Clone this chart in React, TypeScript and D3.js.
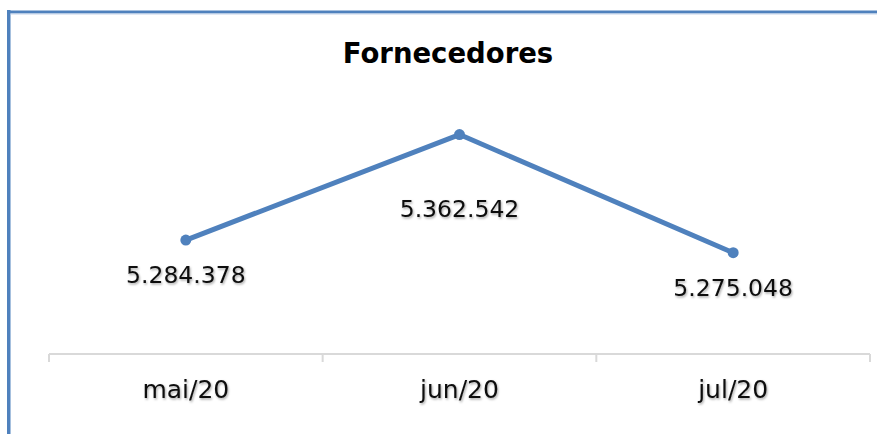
import React from 'react'
import * as d3 from 'd3'

const width = 877
const height = 434

// dados do gráfico
const months = ['mai/20', 'jun/20', 'jul/20']
const values = [5284378, 5362542, 5275048]
const chartTitle = 'Fornecedores'

const fmt = (v: number) => d3.format(',')(v).replace(/,/g, '.')

const App: React.FC = () => {
  const margin = { top: 84, right: 7, bottom: 80, left: 49 }
  const innerBottom = height - margin.bottom

  const x = d3.scaleBand<string>()
    .domain(months)
    .range([margin.left, width - margin.right])

  const y = d3.scaleLinear()
    .domain([5200000, 5400000])
    .range([innerBottom, margin.top])

  const cx = (i: number) => (x(months[i]) || 0) + x.bandwidth() / 2

  const line = d3.line<number>()
    .x((_, i) => cx(i))
    .y(d => y(d))

  // rótulos: o do meio fica mais afastado do ponto
  const labelDy = (i: number) => (i === 1 ? 82 : 43)

  const ticks = [...months.map(m => x(m) || 0), width - margin.right]
  const blue = '#4f81bd'
  const font = '"DejaVu Sans", sans-serif'

  return (
    <svg width={width} height={height} style={{ position: 'absolute', left: 0, top: 0, background: '#fff' }}>
      <defs>
        <filter id="shadow" x="-10%" y="-20%" width="120%" height="150%">
          <feDropShadow dx="1" dy="1.5" stdDeviation="0.8" floodColor="#000" floodOpacity="0.35" />
        </filter>
      </defs>

      {/* moldura */}
      <line x1={8.75} x2={8.75} y1={10} y2={height} stroke={blue} strokeWidth={3.5} />
      <line x1={7} x2={width} y1={12} y2={12} stroke={blue} strokeWidth={3} />
      <line x1={10.5} x2={width} y1={14} y2={14} stroke="#c5d4ea" strokeWidth={1} />

      <text x={448} y={63} textAnchor="middle" fontFamily={font} fontWeight="bold" fontSize={27.5} fill="#000">
        {chartTitle}
      </text>

      {/* eixo x */}
      <line x1={margin.left} x2={width - margin.right} y1={innerBottom} y2={innerBottom} stroke="#d9d9d9" strokeWidth={2} />
      {ticks.map((t, i) => (
        <line key={i} x1={t} x2={t} y1={innerBottom} y2={innerBottom + 8} stroke="#d9d9d9" strokeWidth={2} />
      ))}
      {months.map((m, i) => (
        <text key={m} x={cx(i)} y={398} textAnchor="middle"
          fontFamily={font} fontSize={25} fill="#111" filter="url(#shadow)">
          {m}
        </text>
      ))}

      <path d={line(values) || ''} fill="none" stroke={blue} strokeWidth={5} strokeLinejoin="round" />
      {values.map((v, i) => (
        <circle key={i} cx={cx(i)} cy={y(v)} r={5.5} fill={blue} />
      ))}
      {values.map((v, i) => (
        <text key={'l' + i} x={cx(i)} y={y(v) + labelDy(i)} textAnchor="middle"
          fontFamily={font} fontSize={23.5} fill="#111" filter="url(#shadow)">
          {fmt(v)}
        </text>
      ))}
    </svg>
  )
}

export default App
